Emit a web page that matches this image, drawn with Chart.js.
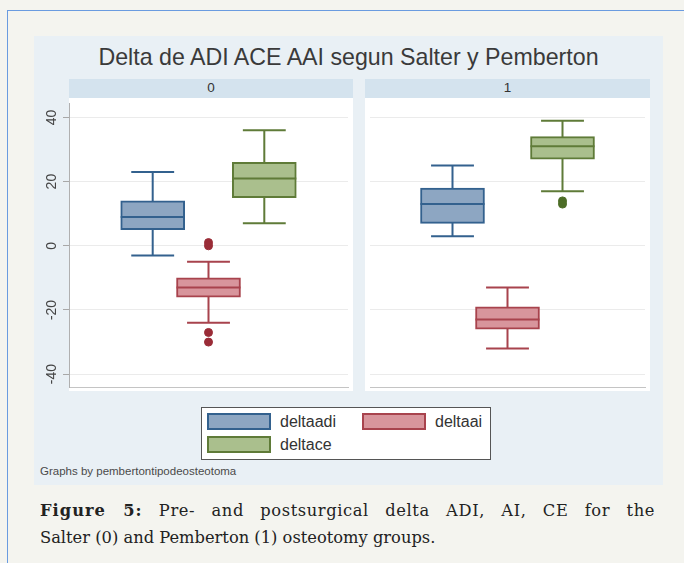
<!DOCTYPE html>
<html>
<head>
<meta charset="utf-8">
<script src="https://cdn.jsdelivr.net/npm/chart.js"></script>
<style>
  body { margin: 0; width: 684px; height: 563px; background: #f4f4ef; position: relative; overflow: hidden; font-family: 'Liberation Sans', Arial, sans-serif; }
  .abs { position: absolute; }
  #graph { left: 34px; top: 36px; width: 629px; height: 449px; background: #e9f0f5; }
  .title { left: 34px; width: 629px; top: 44px; text-align: center; font-size: 23.2px; color: #3a3a3a; }
  .head { top: 79px; height: 19px; background: #d4e3ee; text-align: center; font-size: 13.5px; line-height: 17px; color: #333; }
  .panel { top: 98px; height: 293px; background: #fff; }
  .legend { left: 201px; top: 407px; width: 288px; height: 51px; background: #fff; border: 1.5px solid #555; }
  .item { font-size: 16px; color: #333; line-height: 18px; }
  .swatch { width: 60px; height: 13px; border: 2px solid; }
  .note { left: 40px; top: 465px; font-size: 11.5px; color: #4a4a4a; }
  .caption { left: 40px; width: 615px; font-family: 'DejaVu Serif', serif; font-size: 16.3px; line-height: 27px; color: #222; }
</style>
</head>
<body>
<div class="abs" style="left:7px;top:10px;width:677px;height:1px;background:#6a9be0"></div>
<div class="abs" style="left:7px;top:10px;width:1px;height:553px;background:#6a9be0"></div>

<div id="graph" class="abs"></div>
<div class="abs title">Delta de ADI ACE AAI segun Salter y Pemberton</div>
<div class="abs head" style="left:69px;width:284px">0</div>
<div class="abs head" style="left:365px;width:285px">1</div>
<div class="abs panel" style="left:69px;width:284px"></div>
<div class="abs panel" style="left:365px;width:285px"></div>
<canvas id="panel0" class="abs" style="left:34px;top:98px" width="319" height="294"></canvas>
<canvas id="panel1" class="abs" style="left:365px;top:98px" width="285" height="294"></canvas>

<div class="abs legend">
  <div class="abs swatch" style="left:5px;top:5px;background:#8da6c2;border-color:#33618e"></div>
  <div class="abs item" style="left:78px;top:5px">deltaadi</div>
  <div class="abs swatch" style="left:160px;top:5px;background:#d8959c;border-color:#a8434d"></div>
  <div class="abs item" style="left:233px;top:5px">deltaai</div>
  <div class="abs swatch" style="left:5px;top:28px;background:#aabf8d;border-color:#5f7b38"></div>
  <div class="abs item" style="left:78px;top:28px">deltace</div>
</div>
<div class="abs note">Graphs by pembertontipodeosteotoma</div>

<div class="abs caption" style="top:497px;text-align:justify;text-align-last:justify;letter-spacing:0.6px"><b style="letter-spacing:1px">Figure 5:</b> Pre- and postsurgical delta ADI, AI, CE for the</div>
<div class="abs caption" style="top:524px">Salter (0) and Pemberton (1) osteotomy groups.</div>

<script>
const SERIES = ['deltaadi', 'deltaai', 'deltace']
const Y_TICKS = [-40, -20, 0, 20, 40]

// group 0 (Salter)
const LOW_0 = [-3, -24, 7]
const Q1_0 = [5, -16, 15]
const MEDIAN_0 = [9, -13, 21]
const Q3_0 = [14, -10, 26]
const HIGH_0 = [23, -5, 36]
const OUTLIERS_0 = [[], [1, 0, -27, -30], []]

// group 1 (Pemberton)
const LOW_1 = [3, -32, 17]
const Q1_1 = [7, -26, 27]
const MEDIAN_1 = [13, -23, 31]
const Q3_1 = [18, -19, 34]
const HIGH_1 = [25, -13, 39]
const OUTLIERS_1 = [[], [], [14, 13]]

const FILL = ['#8da6c2', '#d8959c', '#aabf8d']
const LINE = ['#33618e', '#a8434d', '#5f7b38']
const DOT = ['#33618e', '#9a2c37', '#4d6d27']

const whiskerPlugin = (low, median, high) => ({
    id: 'whiskers',
    beforeDatasetsDraw(chart) {
        const ctx = chart.ctx
        const y = chart.scales.y
        SERIES.forEach((name, i) => {
            const bar = chart.getDatasetMeta(i).data[0]
            const half = bar.width * 0.335
            const top = y.getPixelForValue(high[i])
            const bottom = y.getPixelForValue(low[i])
            ctx.save()
            ctx.strokeStyle = LINE[i]
            ctx.lineWidth = 2
            ctx.beginPath()
            ctx.moveTo(bar.x, top)
            ctx.lineTo(bar.x, bottom)
            ctx.moveTo(bar.x - half, top)
            ctx.lineTo(bar.x + half, top)
            ctx.moveTo(bar.x - half, bottom)
            ctx.lineTo(bar.x + half, bottom)
            ctx.stroke()
            ctx.restore()
        })
    },
    afterDatasetsDraw(chart) {
        const ctx = chart.ctx
        const y = chart.scales.y
        SERIES.forEach((name, i) => {
            const bar = chart.getDatasetMeta(i).data[0]
            const py = y.getPixelForValue(median[i])
            ctx.save()
            ctx.strokeStyle = LINE[i]
            ctx.lineWidth = 2
            ctx.beginPath()
            ctx.moveTo(bar.x - bar.width / 2, py)
            ctx.lineTo(bar.x + bar.width / 2, py)
            ctx.stroke()
            ctx.restore()
        })
    },
})

const yLabelPlugin = {
    id: 'yLabels',
    afterDraw(chart) {
        const ctx = chart.ctx
        const y = chart.scales.y
        ctx.save()
        ctx.fillStyle = '#444'
        ctx.font = '14px "Liberation Sans", Arial, sans-serif'
        ctx.textAlign = 'center'
        ctx.textBaseline = 'middle'
        for (const t of y.ticks) {
            ctx.save()
            ctx.translate(18, y.getPixelForValue(t.value))
            ctx.rotate(-Math.PI / 2)
            ctx.fillText(String(t.value), 0, 0)
            ctx.restore()
        }
        ctx.restore()
    },
}

const createPanel = (id, low, q1, median, q3, high, outliers, withAxis) => {
    const datasets = SERIES.map((name, i) => ({
        label: name,
        data: [{x: i, y: [q1[i], q3[i]]}],
        backgroundColor: FILL[i],
        borderColor: LINE[i],
        borderWidth: 2,
        borderSkipped: false,
        barThickness: 64,
        grouped: false,
    }))
    SERIES.forEach((name, i) => {
        datasets.push({
            type: 'scatter',
            label: name + ' outliers',
            data: outliers[i].map(v => ({x: i, y: v})),
            backgroundColor: DOT[i],
            borderColor: DOT[i],
            pointRadius: 4,
        })
    })

    const plugins = [whiskerPlugin(low, median, high)]
    if (withAxis) plugins.push(yLabelPlugin)

    new Chart(document.getElementById(id), {
        type: 'bar',
        data: {datasets},
        options: {
            responsive: false,
            animation: false,
            events: [],
            layout: {padding: 0},
            plugins: {legend: {display: false}, tooltip: {enabled: false}},
            scales: {
                x: {
                    type: 'linear',
                    min: -2 / 3,
                    max: 8 / 3,
                    ticks: {display: false},
                    grid: {display: false},
                    border: {display: true, color: '#c4c4c4'},
                    afterFit: s => { s.height = 1 },
                },
                y: {
                    min: -44,
                    max: 44.5,
                    afterBuildTicks: s => { s.ticks = Y_TICKS.map(v => ({value: v})) },
                    ticks: {display: false},
                    grid: {
                        color: '#ebebeb',
                        drawTicks: withAxis,
                        tickLength: 6,
                        tickColor: '#a8a8a8',
                    },
                    border: {display: withAxis, color: '#b0b0b0'},
                    afterFit: s => { s.width = withAxis ? 35 : 0 },
                },
            },
        },
        plugins,
    })
}

createPanel('panel0', LOW_0, Q1_0, MEDIAN_0, Q3_0, HIGH_0, OUTLIERS_0, true)
createPanel('panel1', LOW_1, Q1_1, MEDIAN_1, Q3_1, HIGH_1, OUTLIERS_1, false)
</script>
</body>
</html>
